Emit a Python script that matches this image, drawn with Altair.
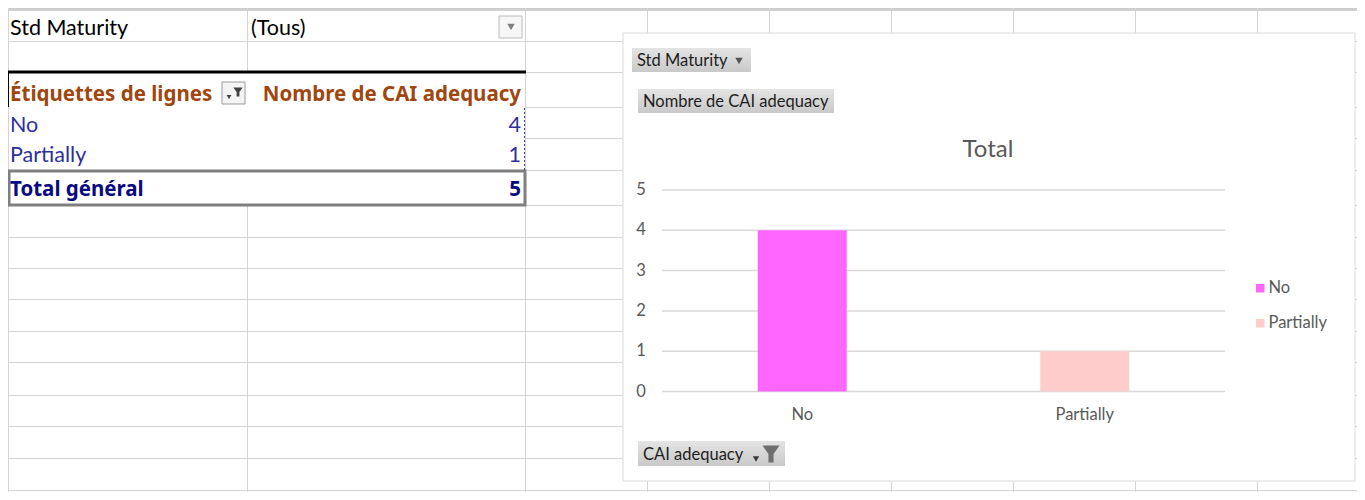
import altair as alt
import pandas as pd

# ---------------- data ----------------
categories = ["No", "Partially"]
counts = [4, 1]
bar_colors = ["#ff66ff", "#ffcccc"]
y_ticks = [0, 1, 2, 3, 4, 5]
total_count = 5

filter_field = "Std Maturity"
filter_value = "(Tous)"
row_header = "Étiquettes de lignes"
value_header = "Nombre de CAI adequacy"
total_label = "Total général"
chart_title = "Total"
axis_field = "CAI adequacy"

# ---------------- layout ----------------
OFF = 8
W, H = 1349, 484
FONT = "Lato"
BFONT = "Noto Sans"
GRID = "#d9d9d9"
DY = 1.5  # baseline nudge for table text


def px(v):
    return v - OFF


def one(**kw):
    return alt.Chart(alt.Data(values=[kw if kw else {"k": 0}]))


def hline(x1, x2, y, color=GRID, width=1, dash=None):
    props = dict(color=color, strokeWidth=width)
    if dash:
        props["strokeDash"] = dash
    return one().mark_rule(**props).encode(
        x=alt.value(px(x1)), x2=alt.value(px(x2)), y=alt.value(px(y))
    )


def vline(x, y1, y2, color=GRID, width=1, dash=None):
    props = dict(color=color, strokeWidth=width)
    if dash:
        props["strokeDash"] = dash
    return one().mark_rule(**props).encode(
        x=alt.value(px(x)), y=alt.value(px(y1)), y2=alt.value(px(y2))
    )


def box(x1, y1, x2, y2, fill="#ffffff", stroke=None, sw=1, gradient=None):
    props = dict(strokeWidth=sw)
    if gradient:
        props["fill"] = alt.LinearGradient(
            gradient="linear", x1=0, x2=0, y1=0, y2=1,
            stops=[alt.GradientStop(offset=0, color=gradient[0]),
                   alt.GradientStop(offset=1, color=gradient[1])])
    else:
        props["fill"] = fill
    if stroke:
        props["stroke"] = stroke
    else:
        props["strokeWidth"] = 0
    return one().mark_rect(**props).encode(
        x=alt.value(px(x1)), x2=alt.value(px(x2)),
        y=alt.value(px(y1)), y2=alt.value(px(y2))
    )


def frame(x1, y1, x2, y2, stroke, sw=1):
    return one().mark_rect(fill="transparent", fillOpacity=0, stroke=stroke, strokeWidth=sw).encode(
        x=alt.value(px(x1)), x2=alt.value(px(x2)),
        y=alt.value(px(y1)), y2=alt.value(px(y2))
    )


def txt(text, x, y, size=21.5, color="#000000", weight="normal", align="left", font=FONT):
    return one(t=text).mark_text(
        align=align, baseline="middle", fontSize=size, font=font,
        fontWeight=weight, color=color
    ).encode(text="t:N", x=alt.value(px(x)), y=alt.value(px(y)))


FUNNEL = "M-1,-1L1,-1L0.3,0L0.3,1L-0.3,1L-0.3,0Z"


def funnel(x, y, size, color):
    return one().mark_point(shape=FUNNEL, filled=True, color=color, size=size, opacity=1).encode(
        x=alt.value(px(x)), y=alt.value(px(y))
    )


def arrow(x, y, size, color):
    return one().mark_point(shape="triangle-down", filled=True, color=color, size=size, opacity=1).encode(
        x=alt.value(px(x)), y=alt.value(px(y))
    )


layers = []

# ---- spreadsheet grid ----
h_rows = [10, 41, 72, 107, 138, 170, 205, 237, 268, 299, 331, 362, 395, 426, 458, 490]
for y in h_rows:
    start = 525 if y in (107, 138) else 8
    layers.append(hline(start, 1365, y + 0.5, color="#d4d4d4"))
layers.append(hline(8, 1365, 9, color="#bdbdbd", width=1.5))
v_cols = [8, 525, 647, 769, 891, 1013, 1135, 1257]
for x in v_cols:
    layers.append(vline(x + 0.5, 8, 492, color="#d4d4d4"))
layers.append(vline(247.5, 8, 72, color="#d4d4d4"))
layers.append(vline(247.5, 205, 492, color="#d4d4d4"))

# ---- pivot table ----
layers.append(box(9, 73, 524, 169, fill="#ffffff"))
layers.append(hline(8, 526, 72, color="#000000", width=3))
layers.append(vline(8.5, 72, 107, color="#000000", width=1))
layers.append(frame(9, 171, 525, 205, stroke="#7f7f7f", sw=3))
layers.append(vline(524.5, 108, 170, color="#3b3bb0", width=1, dash=[2, 2]))

layers.append(txt(filter_field, 10, 27 + DY))
layers.append(txt(filter_value, 251, 27 + DY))
layers.append(box(499, 16, 522, 38, fill="#f7f7f7", stroke="#bcbcbc"))
layers.append(arrow(511, 27, 55, "#808080"))

HDR = "#a0460f"
BLUE = "#2f2f9c"
layers.append(txt(row_header, 10, 93 + DY, size=20.5, color=HDR, weight="bold", font=BFONT))
layers.append(box(222, 82, 245, 104, fill="#f4f4f4", stroke="#9a9a9a"))
layers.append(funnel(238, 92, 85, "#404040"))
layers.append(arrow(229, 97, 24, "#404040"))
layers.append(txt(value_header, 521, 93 + DY, size=20.5, color=HDR, weight="bold", align="right", font=BFONT))

rows_df = pd.DataFrame({"cat": categories, "n": counts})
row_scale = alt.Scale(domain=categories, range=[px(124 + DY), px(154 + DY)], padding=0)
layers.append(
    alt.Chart(rows_df).mark_text(align="left", baseline="middle", fontSize=21.5, font=FONT, color=BLUE)
    .encode(text="cat:N", y=alt.Y("cat:N", scale=row_scale, axis=None), x=alt.value(px(10)))
)
layers.append(
    alt.Chart(rows_df).mark_text(align="right", baseline="middle", fontSize=21.5, font=FONT, color=BLUE)
    .encode(text="n:Q", y=alt.Y("cat:N", scale=row_scale, axis=None), x=alt.value(px(521)))
)
layers.append(txt(total_label, 10, 188 + DY, size=20.5, color="#0a0a80", weight="bold", font=BFONT))
layers.append(txt(str(total_count), 521, 188 + DY, size=20.5, color="#0a0a80", weight="bold", align="right", font=BFONT))

# ---- chart area ----
layers.append(box(623, 33, 1355, 481, fill="#ffffff", stroke="#d9d9d9"))
CF = 16.5
BTN = ("#e4e4e4", "#c9c9c9")
layers.append(box(632, 48, 751, 72, gradient=BTN))
layers.append(txt(filter_field, 637, 61, size=CF, color="#1e1e1e"))
layers.append(arrow(739, 61, 55, "#555555"))
layers.append(box(638, 89, 834, 113, gradient=BTN))
layers.append(txt(value_header, 643, 102, size=CF, color="#1e1e1e"))
layers.append(box(638, 441, 785, 466, gradient=BTN))
layers.append(txt(axis_field, 643, 455, size=CF, color="#1e1e1e"))
layers.append(arrow(756, 459, 40, "#3a3a3a"))
layers.append(funnel(771, 454, 290, "#6f6f6f"))
layers.append(txt(chart_title, 988, 150, size=24, color="#595959", align="center"))

# ---- bar chart (shared scales) ----
xscale = alt.Scale(domain=categories, range=[px(662), px(1225)], paddingInner=0.685, paddingOuter=0.339)
yscale = alt.Scale(domain=[0, 5], range=[px(391.5), px(190)], nice=False, zero=True)

tick_df = pd.DataFrame({"v": y_ticks})
bars_df = pd.DataFrame({"cat": categories, "n": counts})

grid = alt.Chart(tick_df).mark_rule(color=GRID, strokeWidth=1.5).encode(
    y=alt.Y("v:Q", scale=yscale, axis=None),
    x=alt.value(px(662)), x2=alt.value(px(1225)),
)
ylabels = alt.Chart(tick_df).mark_text(align="center", baseline="middle", fontSize=CF, font=FONT, color="#595959").encode(
    y=alt.Y("v:Q", scale=yscale, axis=None), text="v:Q", x=alt.value(px(641)),
)
bars = alt.Chart(bars_df).mark_bar().encode(
    x=alt.X("cat:N", scale=xscale, axis=None, sort=categories),
    y=alt.Y("n:Q", scale=yscale, axis=None),
    color=alt.Color(
        "cat:N",
        scale=alt.Scale(domain=categories, range=bar_colors),
        legend=alt.Legend(
            orient="none", legendX=px(1252), legendY=px(280), title=None,
            symbolType="square", symbolSize=72, symbolStrokeWidth=0,
            labelFont=FONT, labelFontSize=CF, labelColor="#595959",
            labelOffset=0, rowPadding=18,
        ),
    ),
)
xlabels = alt.Chart(bars_df).mark_text(baseline="middle", fontSize=CF, font=FONT, color="#595959").encode(
    x=alt.X("cat:N", scale=xscale, axis=None, sort=categories),
    text="cat:N", y=alt.value(px(415)),
)

layers += [grid, ylabels, bars, xlabels]

chart = alt.layer(*layers).properties(
    width=W, height=H, padding=0, autosize=alt.AutoSizeParams(type="none"),
    background="#ffffff",
).configure_view(stroke=None)

chart.save("out.html", embed_options={"renderer": "svg", "actions": False})
